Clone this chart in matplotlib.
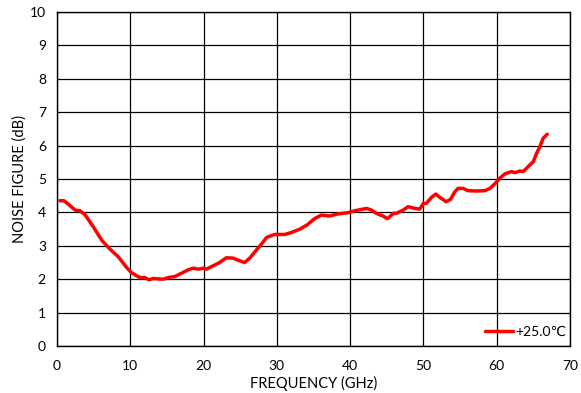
import matplotlib
matplotlib.use("Agg")
import matplotlib.pyplot as plt

plt.rcParams['font.family'] = ['Lato', 'DejaVu Sans']

freq = [0.4, 0.95, 1.7, 2.46, 3.1, 3.8, 4.95, 6.1, 7.23, 8.37, 9.5, 10.2, 11.3, 12.0,
        12.55, 13.1, 14.5, 15.2, 16.1, 17.0, 17.9, 18.6, 19.3, 20.0, 20.4, 21.3, 22.2,
        23.1, 24.05, 24.7, 25.6, 26.3, 27.2, 27.9, 28.6, 29.7, 31.1, 32.0, 33.15, 34.1,
        35.2, 36.1, 37.2, 38.2, 39.7, 40.65, 42.25, 42.9, 43.6, 44.5, 45.1, 45.9, 46.3,
        47.25, 47.9, 48.8, 49.5, 50.0, 50.4, 51.1, 51.7, 52.25, 53.1, 53.7, 54.3, 54.75,
        55.4, 56.1, 57.25, 58.4, 59.1, 59.9, 60.4, 61.1, 62.0, 62.5, 63.2, 63.6, 64.3,
        65.0, 65.45, 65.9, 66.35, 66.9]
nf = [4.35, 4.35, 4.22, 4.07, 4.05, 3.94, 3.57, 3.17, 2.90, 2.67, 2.35, 2.19, 2.05, 2.05,
      1.98, 2.02, 2.00, 2.05, 2.08, 2.18, 2.28, 2.33, 2.30, 2.33, 2.30, 2.40, 2.50,
      2.64, 2.63, 2.57, 2.50, 2.63, 2.87, 3.05, 3.25, 3.34, 3.34, 3.40, 3.50, 3.62,
      3.82, 3.92, 3.89, 3.95, 3.99, 4.05, 4.12, 4.07, 3.97, 3.89, 3.81, 3.97, 3.97,
      4.07, 4.17, 4.12, 4.10, 4.27, 4.27, 4.45, 4.55, 4.45, 4.32, 4.39, 4.62, 4.72,
      4.72, 4.65, 4.64, 4.65, 4.72, 4.89, 5.02, 5.15, 5.22, 5.19, 5.24, 5.22, 5.37,
      5.52, 5.77, 5.97, 6.22, 6.34]
series_label = "+25.0℃"
x_ticks = [0, 10, 20, 30, 40, 50, 60, 70]
y_ticks = [0, 1, 2, 3, 4, 5, 6, 7, 8, 9, 10]

fig = plt.figure(figsize=(5.81, 3.93), dpi=100)
ax = fig.add_axes([0.0981, 0.1196, 0.8829, 0.8499])
ax.plot(freq, nf, color='#ff0000', lw=2.5, label=series_label, solid_capstyle='round')
ax.set_xlim(0, 70)
ax.set_ylim(0, 10)
ax.set_xticks(x_ticks)
ax.set_yticks(y_ticks)
ax.grid(True, color='black', lw=0.9)
ax.set_axisbelow(True)
ax.tick_params(length=0, labelsize=10)
ax.tick_params(axis='x', pad=10)
ax.tick_params(axis='y', pad=8)
for s in ax.spines.values():
    s.set_color('black')
    s.set_linewidth(1.0)
ax.set_xlabel('FREQUENCY (GHz)', fontsize=10.5, labelpad=3)
ax.set_ylabel('NOISE FIGURE (dB)', fontsize=10.5, labelpad=2)
leg = ax.legend(loc='lower right', bbox_to_anchor=(1.008, 0.0), frameon=False,
                fontsize=10, handlelength=2.0, handletextpad=0.15, borderaxespad=0.15)
fig.savefig('out.png', dpi=100)
